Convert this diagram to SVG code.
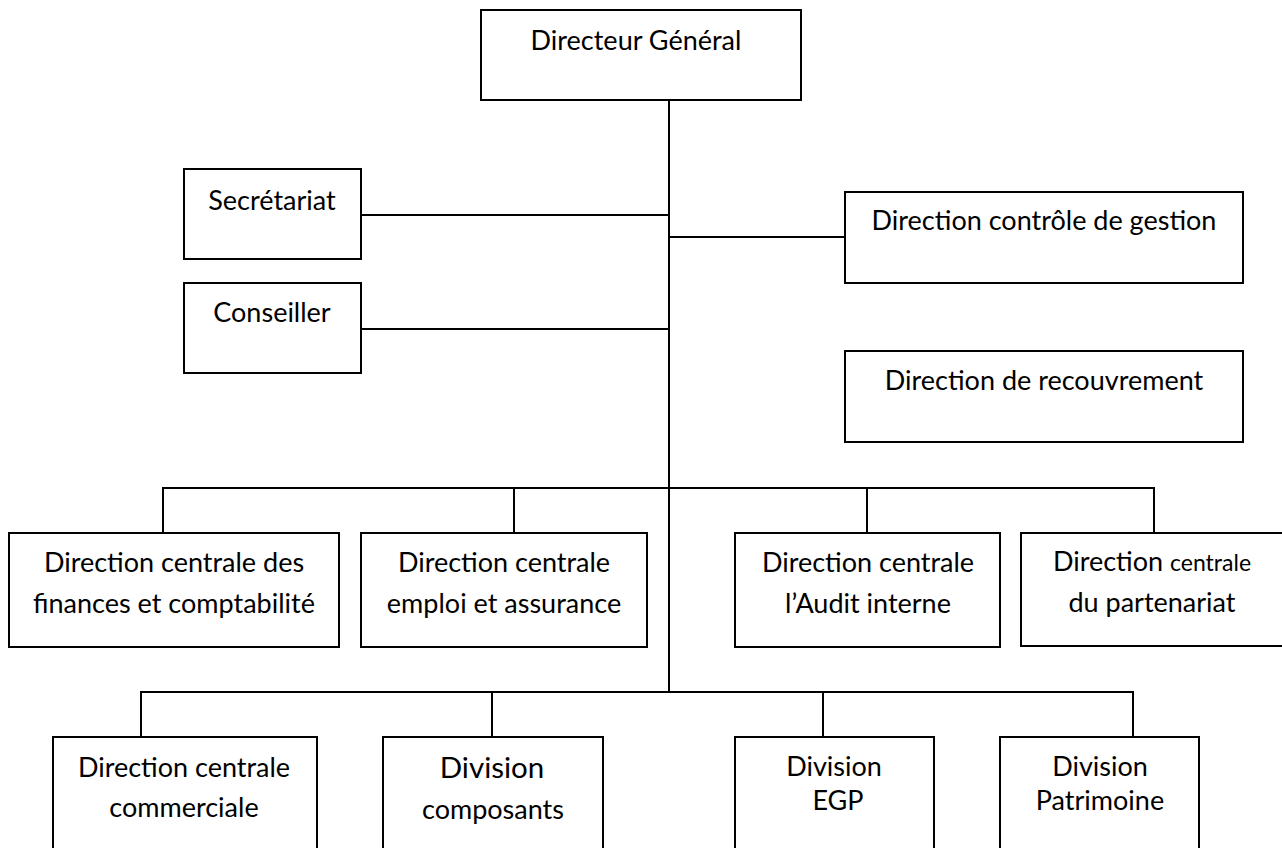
<svg xmlns="http://www.w3.org/2000/svg" width="1282" height="848" viewBox="0 0 1282 848">
  <style>
    .box { fill: #ffffff; stroke: #000000; stroke-width: 2; }
    .link { fill: none; stroke: #000000; stroke-width: 2; }
    text { font-family: Lato, "Open Sans", "Liberation Sans", sans-serif; font-size: 27px; fill: #000000; text-anchor: middle; }
    .small { font-size: 23px; }
    .big { font-size: 29.5px; }
  </style>
  <rect width="1282" height="848" fill="#ffffff"/>

  <!-- connectors -->
  <g id="connectors">
    <path class="link" d="M669 100 V692"/>
    <path class="link" d="M361 215 H669"/>
    <path class="link" d="M361 329 H669"/>
    <path class="link" d="M669 237 H845"/>
    <path class="link" d="M163 533 V488 H1154 V533 M514 488 V533 M867 488 V533"/>
    <path class="link" d="M141 737 V692 H1133 V737 M492 692 V737 M823 692 V737"/>
  </g>

  <g id="directeur-general">
    <rect class="box" x="481" y="10" width="320" height="90"/>
    <text x="636" y="50">Directeur Général</text>
  </g>

  <g id="secretariat">
    <rect class="box" x="184" y="169" width="177" height="90"/>
    <text x="272" y="210">Secrétariat</text>
  </g>

  <g id="conseiller">
    <rect class="box" x="184" y="283" width="177" height="90"/>
    <text x="272" y="322">Conseiller</text>
  </g>

  <g id="controle-gestion">
    <rect class="box" x="845" y="192" width="398" height="91"/>
    <text x="1044" y="230">Direction contrôle de gestion</text>
  </g>

  <g id="recouvrement">
    <rect class="box" x="845" y="351" width="398" height="91"/>
    <text x="1044" y="390">Direction de recouvrement</text>
  </g>

  <g id="finances-comptabilite">
    <rect class="box" x="9" y="533" width="330" height="114"/>
    <text x="174" y="572">Direction centrale des</text>
    <text x="174" y="613">finances et comptabilité</text>
  </g>

  <g id="emploi-assurance">
    <rect class="box" x="361" y="533" width="286" height="114"/>
    <text x="504" y="572">Direction centrale</text>
    <text x="504" y="613">emploi et assurance</text>
  </g>

  <g id="audit-interne">
    <rect class="box" x="735" y="533" width="265" height="114"/>
    <text x="868" y="572">Direction centrale</text>
    <text x="868" y="613">l’Audit interne</text>
  </g>

  <!-- right edge runs past the page -->
  <g id="partenariat">
    <rect class="box" x="1021" y="533" width="270" height="113"/>
    <text x="1152" y="571">Direction <tspan class="small">centrale</tspan></text>
    <text x="1152" y="612">du partenariat</text>
  </g>

  <g id="commerciale">
    <rect class="box" x="53" y="737" width="264" height="130"/>
    <text x="184" y="777">Direction centrale</text>
    <text x="184" y="817">commerciale</text>
  </g>

  <g id="composants">
    <rect class="box" x="383" y="737" width="220" height="130"/>
    <text class="big" x="492" y="778">Division</text>
    <text x="493" y="819">composants</text>
  </g>

  <g id="egp">
    <rect class="box" x="735" y="737" width="199" height="130"/>
    <text x="834" y="776">Division</text>
    <text x="838" y="810">EGP</text>
  </g>

  <g id="patrimoine">
    <rect class="box" x="1000" y="737" width="199" height="130"/>
    <text x="1100" y="776">Division</text>
    <text x="1100" y="810">Patrimoine</text>
  </g>
</svg>
